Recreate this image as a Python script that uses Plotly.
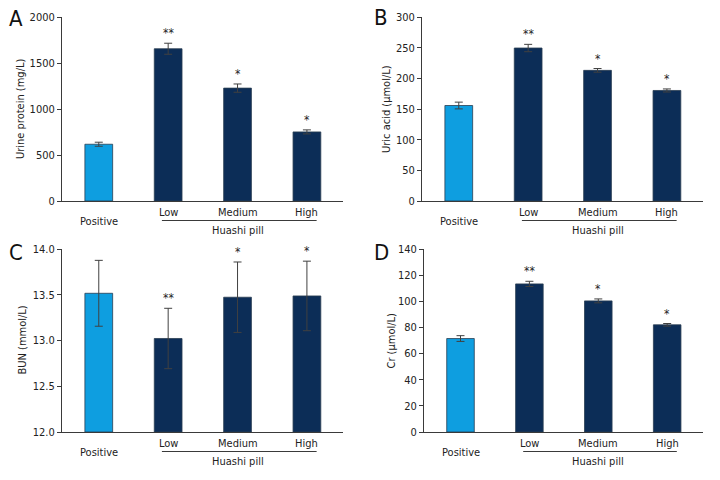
import plotly.graph_objects as go

groups = ["Positive", "Low", "Medium", "High"]
colors = ["#0E9EE0", "#0C2D57", "#0C2D57", "#0C2D57"]
stars = ["", "**", "*", "*"]

urine_protein = [617, 1655, 1227, 751]
urine_protein_err = [22, 60, 45, 22]
uric_acid = [155.7, 249.4, 213, 180.2]
uric_acid_err = [5.5, 6, 3, 2.5]
bun = [13.516, 13.022, 13.473, 13.487]
bun_err = [0.36, 0.33, 0.385, 0.38]
cr = [71.5, 113.3, 100.3, 82.0]
cr_err = [2.2, 2.0, 1.5, 1.0]

panels = [
    dict(letter="A", title="Urine protein (mg/L)", vals=urine_protein, err=urine_protein_err,
         rng=[0, 2000], dtick=500, fmt="", xd=[62/720, 343/720], yd=[1-201/480, 1-17/480]),
    dict(letter="B", title="Uric acid (μmol/L)", vals=uric_acid, err=uric_acid_err,
         rng=[0, 300], dtick=50, fmt="", xd=[422/720, 703/720], yd=[1-201/480, 1-17/480]),
    dict(letter="C", title="BUN (mmol/L)", vals=bun, err=bun_err,
         rng=[12, 14], dtick=0.5, fmt=".1f", xd=[62/720, 343/720], yd=[1-432/480, 1-249/480]),
    dict(letter="D", title="Cr (μmol/L)", vals=cr, err=cr_err,
         rng=[0, 140], dtick=20, fmt="", xd=[424/720, 703/720], yd=[1-432/480, 1-249/480]),
]

FONT = "DejaVu Sans Condensed, Liberation Sans Narrow, Arial Narrow, sans-serif"
AX = "#3a3a3a"
TXT = "#222222"

fig = go.Figure()
annotations = []
shapes = []
letter_pos = {"A": (16, 19), "B": (381, 18), "C": (16, 252), "D": (381, 252)}
title_x = {"A": 21, "B": 387, "C": 22, "D": 391}

for i, p in enumerate(panels):
    n = "" if i == 0 else str(i + 1)
    xa, ya = "x" + n, "y" + n
    lo = p["rng"][0]
    fig.add_trace(go.Bar(
        x=groups, y=[v - lo for v in p["vals"]], base=lo, xaxis=xa, yaxis=ya, width=0.40,
        marker=dict(color=colors, line=dict(color="#2a3d52", width=0.8)),
        error_y=dict(type="data", array=p["err"], visible=True, color="#404040",
                     thickness=1, width=4),
        showlegend=False, hoverinfo="skip",
    ))
    fig.layout["xaxis" + n] = dict(
        domain=p["xd"], anchor=ya, range=[-0.53, 3.52], showticklabels=False,
        ticks="", showline=True, linecolor=AX, linewidth=1, showgrid=False,
        zeroline=False, fixedrange=True, type="category", automargin=False,
    )
    fig.layout["yaxis" + n] = dict(
        domain=p["yd"], anchor=xa, range=p["rng"], dtick=p["dtick"], tick0=lo,
        tickformat=p["fmt"], ticks="outside", ticklen=4, tickcolor=AX, tickwidth=1,
        showline=True, linecolor=AX, linewidth=1, showgrid=False, zeroline=False,
        tickfont=dict(family=FONT, size=11, color=TXT), fixedrange=True, automargin=False,
    )
    for g, s, v, e in zip(groups, stars, p["vals"], p["err"]):
        annotations.append(dict(
            x=g, xref=xa, y=0, yref=ya + " domain", yanchor="middle",
            yshift=-20 if g == "Positive" else -11, text=g, showarrow=False,
            font=dict(family=FONT, size=11, color=TXT),
        ))
        if s:
            annotations.append(dict(
                x=g, xref=xa, y=v + e, yref=ya, yanchor="bottom", yshift=1,
                text=s, showarrow=False, font=dict(family=FONT, size=12, color=TXT),
            ))
    annotations.append(dict(
        x="Medium", xref=xa, y=0, yref=ya + " domain", yanchor="middle", yshift=-29,
        text="Huashi pill", showarrow=False, font=dict(family=FONT, size=11, color=TXT),
    ))
    shapes.append(dict(
        type="line", xref=xa, x0=0.91, x1=3.14, yref=ya + " domain", ysizemode="pixel",
        yanchor=0, y0=-19.5, y1=-19.5, line=dict(color=AX, width=1),
    ))
    lx, ly = letter_pos[p["letter"]]
    annotations.append(dict(
        x=lx / 720, y=1 - ly / 480, xref="paper", yref="paper", xanchor="center",
        yanchor="middle", text=p["letter"], showarrow=False,
        font=dict(family=FONT, size=22, color="#111"),
    ))
    annotations.append(dict(
        x=title_x[p["letter"]] / 720, y=(p["yd"][0] + p["yd"][1]) / 2, xref="paper",
        yref="paper", xanchor="center", yanchor="middle", textangle=-90,
        text=p["title"], showarrow=False, font=dict(family=FONT, size=11, color=TXT),
    ))

fig.update_layout(
    width=720, height=480, margin=dict(l=0, r=0, t=0, b=0, pad=0, autoexpand=False),
    paper_bgcolor="white", plot_bgcolor="white",
    annotations=annotations, shapes=shapes,
)
fig.write_html("out.html", config={"displayModeBar": False},
               post_script="document.body.style.margin='0';")
